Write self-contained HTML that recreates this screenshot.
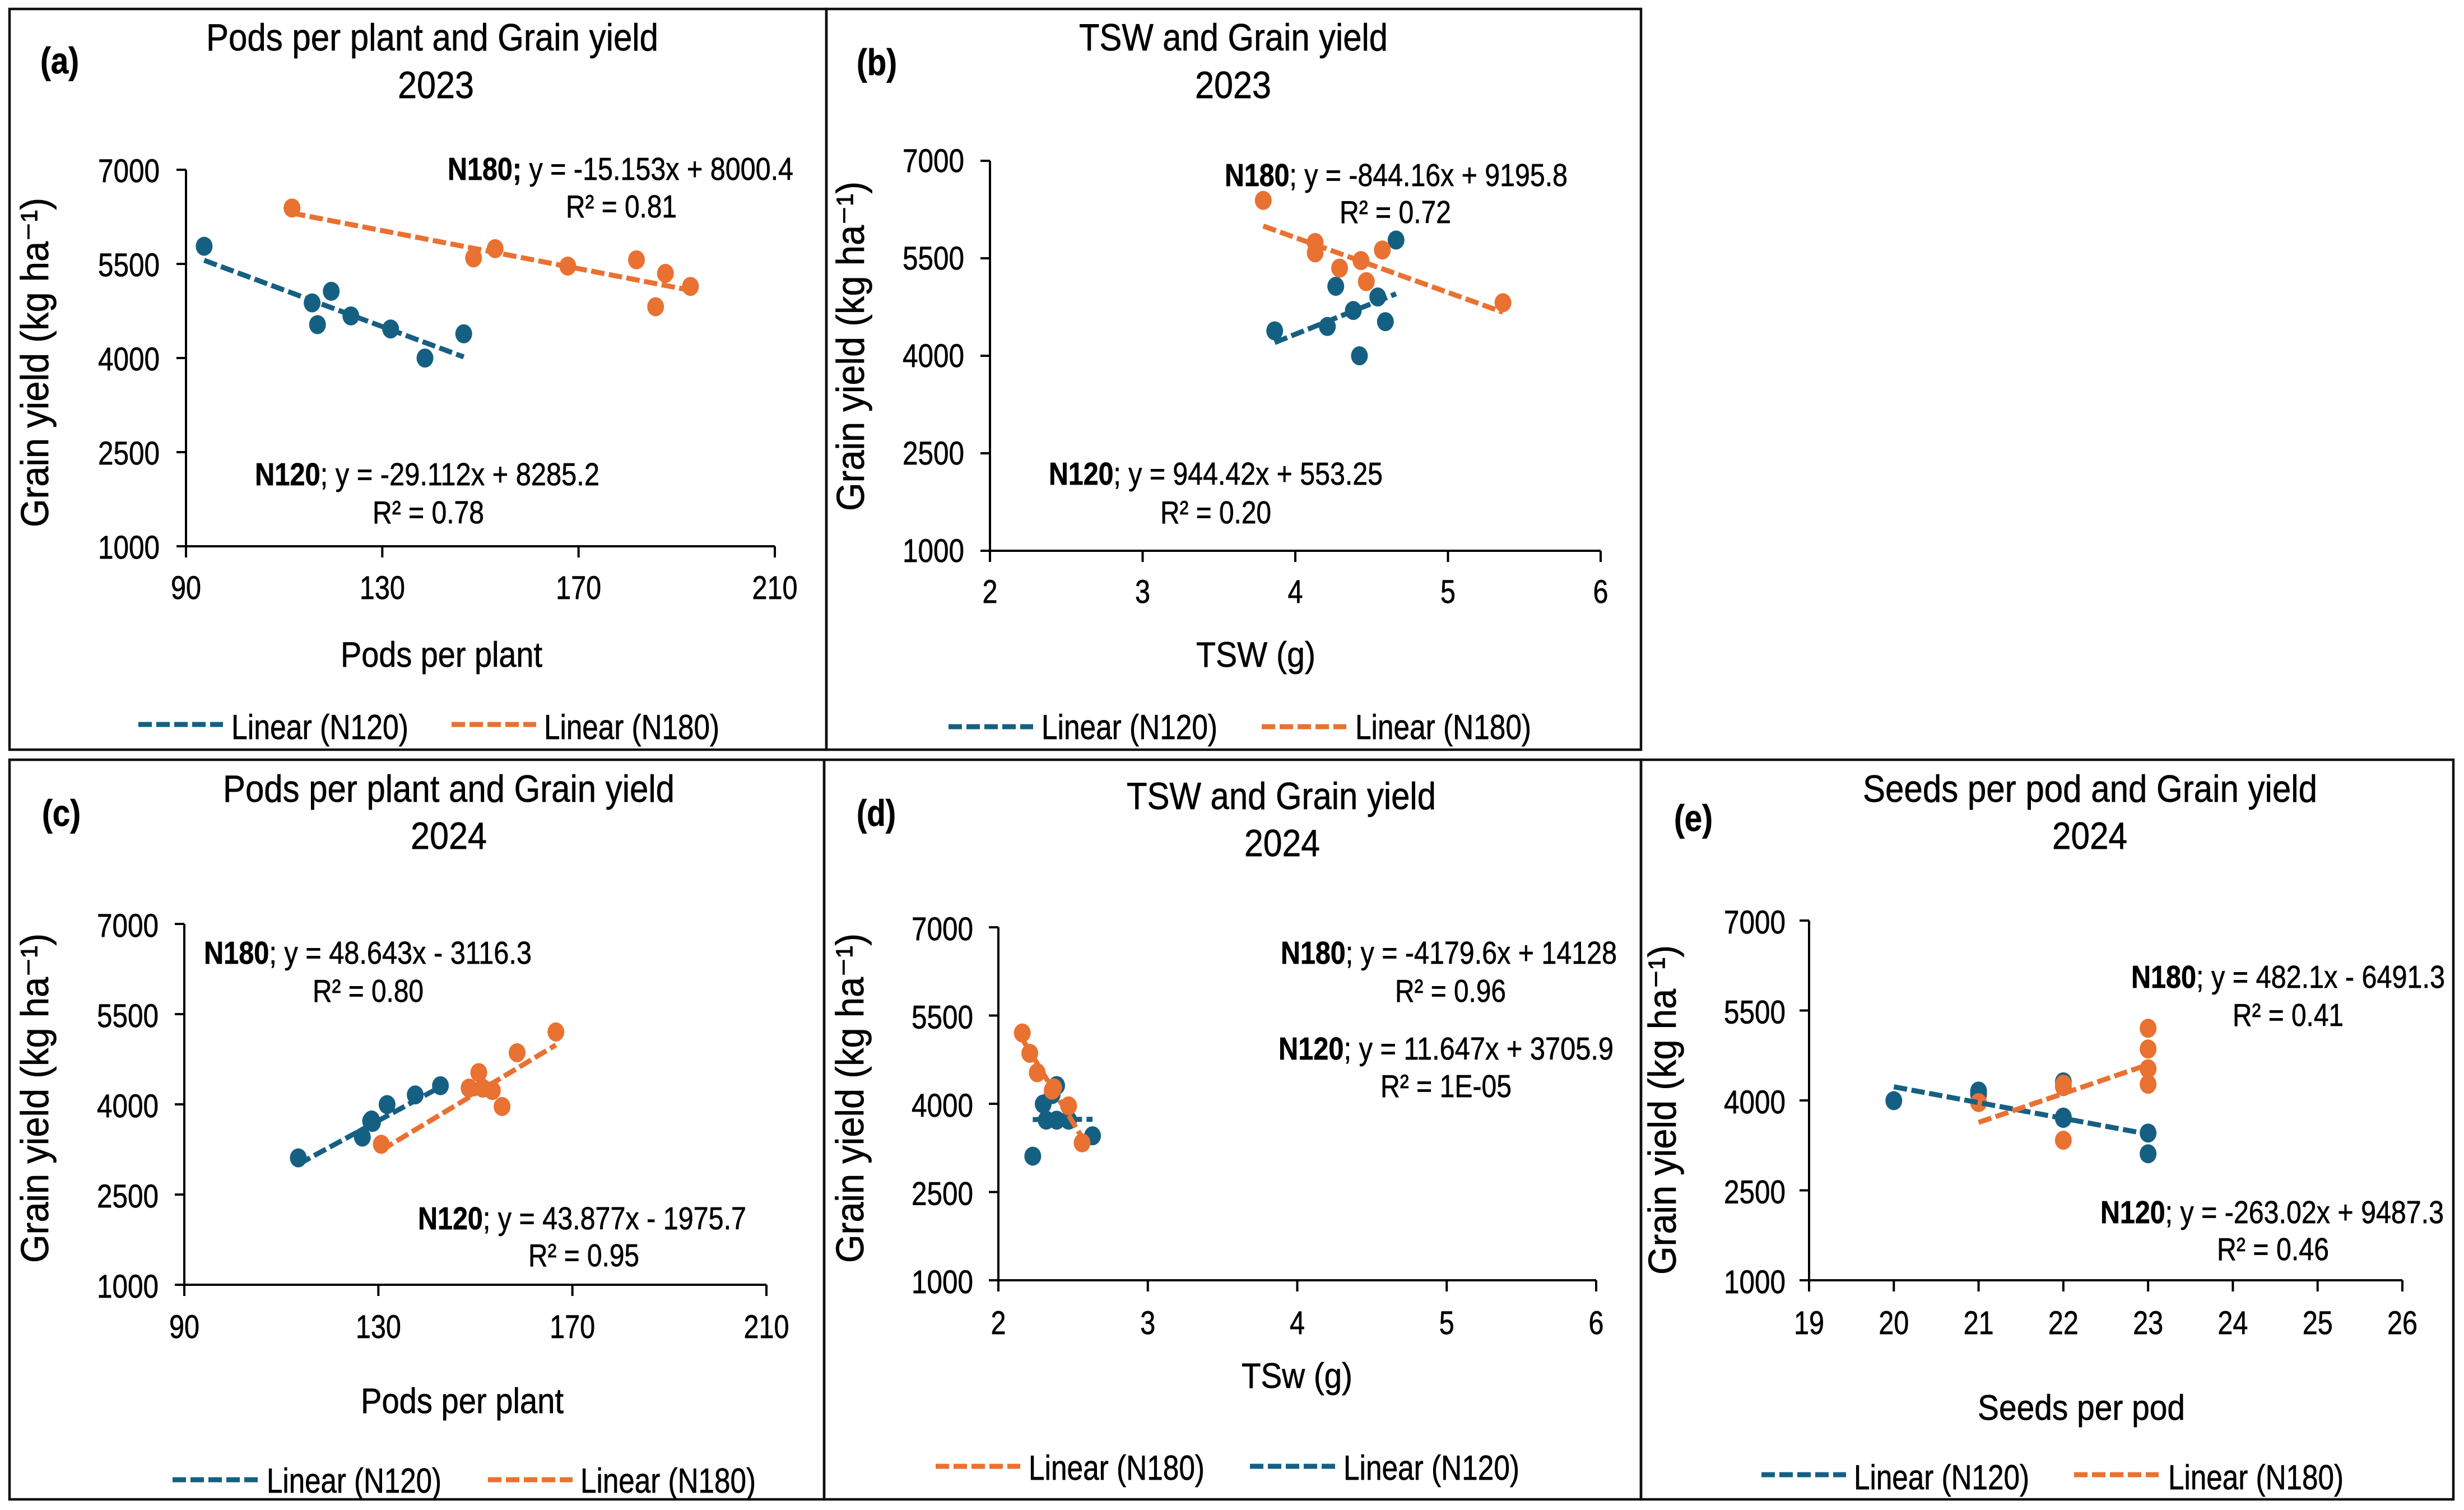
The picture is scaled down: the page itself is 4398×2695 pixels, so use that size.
<!DOCTYPE html>
<html lang="en">
<head>
<meta charset="utf-8">
<title>Grain yield correlations</title>
<style>
html,body{margin:0;padding:0;background:#fff;}
svg{display:block;}
text{font-family:"Liberation Sans","DejaVu Sans",sans-serif;fill:#000;stroke:#000;stroke-width:.7px;}
.title{font-size:68px;}
.annot{font-size:57px;}
.leg{font-size:62px;}
.xt{font-size:63px;}
.yt{font-size:70px;}
.tag{font-size:66px;font-weight:bold;}
.frame{stroke:#111;stroke-width:4.5;fill:none;}
.b{font-weight:bold;}
.blue{stroke:#156082;stroke-width:9;stroke-dasharray:24 8;fill:none;}
.orange{stroke:#E97132;stroke-width:9;stroke-dasharray:24 8;fill:none;}
</style>
</head>
<body>
<svg id="figure" xmlns="http://www.w3.org/2000/svg" width="4398" height="2695" viewBox="0 0 4398 2695">
<rect width="4398" height="2695" fill="#fff"/>

<g>
<rect class="frame" x="17" y="16" width="1458" height="1322"/>
<rect class="frame" x="1475" y="16" width="1454" height="1322"/>
<rect class="frame" x="17" y="1356" width="1454" height="1320"/>
<rect class="frame" x="1471" y="1356" width="1458" height="1320"/>
<rect class="frame" x="2929" y="1356" width="1450" height="1320"/>
</g>

<!-- Panel a -->
<g>
<text class="tag" x="72" y="131" textLength="69" lengthAdjust="spacingAndGlyphs">(a)</text>
<text class="title" x="368" y="90" textLength="807" lengthAdjust="spacingAndGlyphs">Pods per plant and Grain yield</text>
<text class="title" x="710" y="175" textLength="136" lengthAdjust="spacingAndGlyphs">2023</text>
<text class="xt" x="608" y="1190" textLength="360" lengthAdjust="spacingAndGlyphs">Pods per plant</text>
<text class="yt" text-anchor="middle" transform="translate(86,647) rotate(-90)" textLength="588" lengthAdjust="spacingAndGlyphs">Grain yield (kg ha⁻¹)</text>
<text class="annot" x="799" y="321" textLength="617" lengthAdjust="spacingAndGlyphs"><tspan class="b">N180;</tspan> y = -15.153x + 8000.4</text>
<text class="annot" x="1010" y="388" textLength="198" lengthAdjust="spacingAndGlyphs">R² = 0.81</text>
<text class="annot" x="455" y="866" textLength="615" lengthAdjust="spacingAndGlyphs"><tspan class="b">N120</tspan>; y = -29.112x + 8285.2</text>
<text class="annot" x="665" y="934" textLength="199" lengthAdjust="spacingAndGlyphs">R² = 0.78</text>
<line class="blue" x1="247" y1="1293" x2="398" y2="1293"/>
<text class="leg" x="413" y="1319" textLength="316" lengthAdjust="spacingAndGlyphs">Linear (N120)</text>
<line class="orange" x1="806" y1="1293" x2="957" y2="1293"/>
<text class="leg" x="971" y="1319" textLength="313" lengthAdjust="spacingAndGlyphs">Linear (N180)</text>
</g>

<!-- Panel b -->
<g>
<text class="tag" x="1529" y="134" textLength="72" lengthAdjust="spacingAndGlyphs">(b)</text>
<text class="title" x="1926" y="90" textLength="551" lengthAdjust="spacingAndGlyphs">TSW and Grain yield</text>
<text class="title" x="2133" y="175" textLength="136" lengthAdjust="spacingAndGlyphs">2023</text>
<text class="xt" x="2135" y="1190" textLength="213" lengthAdjust="spacingAndGlyphs">TSW (g)</text>
<text class="yt" text-anchor="middle" transform="translate(1542,618) rotate(-90)" textLength="588" lengthAdjust="spacingAndGlyphs">Grain yield (kg ha⁻¹)</text>
<text class="annot" x="2186" y="332" textLength="612" lengthAdjust="spacingAndGlyphs"><tspan class="b">N180</tspan>; y = -844.16x + 9195.8</text>
<text class="annot" x="2391" y="398" textLength="199" lengthAdjust="spacingAndGlyphs">R² = 0.72</text>
<text class="annot" x="1872" y="865" textLength="596" lengthAdjust="spacingAndGlyphs"><tspan class="b">N120</tspan>; y = 944.42x + 553.25</text>
<text class="annot" x="2071" y="934" textLength="198" lengthAdjust="spacingAndGlyphs">R² = 0.20</text>
<line class="blue" x1="1693" y1="1297" x2="1844" y2="1297"/>
<text class="leg" x="1859" y="1319" textLength="314" lengthAdjust="spacingAndGlyphs">Linear (N120)</text>
<line class="orange" x1="2252" y1="1297" x2="2403" y2="1297"/>
<text class="leg" x="2419" y="1319" textLength="314" lengthAdjust="spacingAndGlyphs">Linear (N180)</text>
</g>

<!-- Panel c -->
<g>
<text class="tag" x="75" y="1474" textLength="69" lengthAdjust="spacingAndGlyphs">(c)</text>
<text class="title" x="398" y="1431" textLength="806" lengthAdjust="spacingAndGlyphs">Pods per plant and Grain yield</text>
<text class="title" x="733" y="1515" textLength="136" lengthAdjust="spacingAndGlyphs">2024</text>
<text class="xt" x="644" y="2522" textLength="362" lengthAdjust="spacingAndGlyphs">Pods per plant</text>
<text class="yt" text-anchor="middle" transform="translate(86,1960) rotate(-90)" textLength="588" lengthAdjust="spacingAndGlyphs">Grain yield (kg ha⁻¹)</text>
<text class="annot" x="364" y="1720" textLength="585" lengthAdjust="spacingAndGlyphs"><tspan class="b">N180</tspan>; y = 48.643x - 3116.3</text>
<text class="annot" x="558" y="1788" textLength="198" lengthAdjust="spacingAndGlyphs">R² = 0.80</text>
<text class="annot" x="746" y="2194" textLength="586" lengthAdjust="spacingAndGlyphs"><tspan class="b">N120</tspan>; y = 43.877x - 1975.7</text>
<text class="annot" x="943" y="2260" textLength="198" lengthAdjust="spacingAndGlyphs">R² = 0.95</text>
<line class="blue" x1="308" y1="2641" x2="461" y2="2641"/>
<text class="leg" x="476" y="2664" textLength="312" lengthAdjust="spacingAndGlyphs">Linear (N120)</text>
<line class="orange" x1="871" y1="2641" x2="1022" y2="2641"/>
<text class="leg" x="1036" y="2664" textLength="313" lengthAdjust="spacingAndGlyphs">Linear (N180)</text>
</g>

<!-- Panel d -->
<g>
<text class="tag" x="1529" y="1474" textLength="70" lengthAdjust="spacingAndGlyphs">(d)</text>
<text class="title" x="2011" y="1444" textLength="552" lengthAdjust="spacingAndGlyphs">TSW and Grain yield</text>
<text class="title" x="2221" y="1528" textLength="135" lengthAdjust="spacingAndGlyphs">2024</text>
<text class="xt" x="2216" y="2477" textLength="198" lengthAdjust="spacingAndGlyphs">TSw (g)</text>
<text class="yt" text-anchor="middle" transform="translate(1541,1960) rotate(-90)" textLength="588" lengthAdjust="spacingAndGlyphs">Grain yield (kg ha⁻¹)</text>
<text class="annot" x="2286" y="1720" textLength="600" lengthAdjust="spacingAndGlyphs"><tspan class="b">N180</tspan>; y = -4179.6x + 14128</text>
<text class="annot" x="2490" y="1788" textLength="198" lengthAdjust="spacingAndGlyphs">R² = 0.96</text>
<text class="annot" x="2282" y="1891" textLength="598" lengthAdjust="spacingAndGlyphs"><tspan class="b">N120</tspan>; y = 11.647x + 3705.9</text>
<text class="annot" x="2464" y="1958" textLength="234" lengthAdjust="spacingAndGlyphs">R² = 1E-05</text>
<line class="orange" x1="1670" y1="2617" x2="1821" y2="2617"/>
<text class="leg" x="1836" y="2641" textLength="314" lengthAdjust="spacingAndGlyphs">Linear (N180)</text>
<line class="blue" x1="2231" y1="2617" x2="2383" y2="2617"/>
<text class="leg" x="2398" y="2641" textLength="314" lengthAdjust="spacingAndGlyphs">Linear (N120)</text>
</g>

<!-- Panel e -->
<g>
<text class="tag" x="2988" y="1483" textLength="69" lengthAdjust="spacingAndGlyphs">(e)</text>
<text class="title" x="3325" y="1431" textLength="811" lengthAdjust="spacingAndGlyphs">Seeds per pod and Grain yield</text>
<text class="title" x="3663" y="1515" textLength="134" lengthAdjust="spacingAndGlyphs">2024</text>
<text class="xt" x="3530" y="2534" textLength="370" lengthAdjust="spacingAndGlyphs">Seeds per pod</text>
<text class="yt" text-anchor="middle" transform="translate(2991,1981) rotate(-90)" textLength="588" lengthAdjust="spacingAndGlyphs">Grain yield (kg ha⁻¹)</text>
<text class="annot" x="3804" y="1763" textLength="560" lengthAdjust="spacingAndGlyphs"><tspan class="b">N180</tspan>; y = 482.1x - 6491.3</text>
<text class="annot" x="3985" y="1831" textLength="198" lengthAdjust="spacingAndGlyphs">R² = 0.41</text>
<text class="annot" x="3749" y="2183" textLength="613" lengthAdjust="spacingAndGlyphs"><tspan class="b">N120</tspan>; y = -263.02x + 9487.3</text>
<text class="annot" x="3957" y="2249" textLength="200" lengthAdjust="spacingAndGlyphs">R² = 0.46</text>
<line class="blue" x1="3144" y1="2632" x2="3295" y2="2632"/>
<text class="leg" x="3309" y="2658" textLength="313" lengthAdjust="spacingAndGlyphs">Linear (N120)</text>
<line class="orange" x1="3702" y1="2632" x2="3853" y2="2632"/>
<text class="leg" x="3870" y="2658" textLength="313" lengthAdjust="spacingAndGlyphs">Linear (N180)</text>
</g>
</svg>

<script>
// ---------- chart data ----------
const yTicks = [1000, 2500, 4000, 5500, 7000];
const xTicksPods = [90, 130, 170, 210];
const xTicksTsw = [2, 3, 4, 5, 6];
const xTicksSeeds = [19, 20, 21, 22, 23, 24, 25, 26];

const aN120X = [93.7, 115.7, 116.8, 119.6, 123.6, 131.7, 138.7, 146.6];
const aN120Y = [5781, 4879, 4532, 5064, 4671, 4463, 4000, 4386];
const aN180X = [111.6, 148.6, 153, 167.8, 181.8, 185.7, 187.7, 192.8];
const aN180Y = [6391, 5596, 5743, 5465, 5565, 4817, 5349, 5141];
const aN120Fit = [-29.112, 8285.2];
const aN180Fit = [-15.153, 8000.4];

const bN120X = [3.865, 4.21, 4.265, 4.38, 4.42, 4.54, 4.59, 4.66];
const bN120Y = [4384, 4451, 5069, 4697, 4000, 4905, 4525, 5781];
const bN180X = [3.79, 4.13, 4.13, 4.29, 4.43, 4.465, 4.57, 5.36];
const bN180Y = [6391, 5743, 5584, 5349, 5465, 5141, 5628, 4817];
const bN120Fit = [944.42, 553.25];
const bN180Fit = [-844.16, 9195.8];

const cN120X = [113.5, 126.7, 128.4, 128.8, 128.6, 131.8, 137.6, 142.8];
const cN120Y = [3110, 3456, 3722, 3700, 3740, 3996, 4157, 4310];
const cN180X = [130.6, 148.7, 150.7, 151.5, 153.5, 155.5, 158.6, 166.6];
const cN180Y = [3336, 4270, 4528, 4270, 4230, 3964, 4858, 5204];
const cN120Fit = [43.877, -1975.7];
const cN180Fit = [48.643, -3116.3];

const dN120X = [2.23, 2.30, 2.32, 2.36, 2.39, 2.39, 2.47, 2.63];
const dN120Y = [3110, 3996, 3722, 4157, 4310, 3722, 3722, 3456];
const dN180X = [2.16, 2.21, 2.26, 2.37, 2.36, 2.37, 2.47, 2.56];
const dN180Y = [5204, 4858, 4528, 4270, 4230, 4270, 3964, 3336];
const dN120Fit = [11.647, 3705.9];
const dN180Fit = [-4179.6, 14128];

const eN120X = [20, 21, 21, 22, 22, 22, 23, 23];
const eN120Y = [3996, 4157, 4100, 4310, 3722, 3700, 3456, 3110];
const eN180X = [21, 22, 22, 22, 23, 23, 23, 23];
const eN180Y = [3964, 4270, 4230, 3336, 5204, 4858, 4528, 4270];
const eN120Fit = [-263.02, 9487.3];
const eN180Fit = [482.1, -6491.3];

// ---------- rendering ----------
const NS = 'http://www.w3.org/2000/svg';
const svg = document.getElementById('figure');
const BLUE = '#156082', ORANGE = '#E97132';

function mk(tag, attrs, parent) {
  const el = document.createElementNS(NS, tag);
  for (const k in attrs) el.setAttribute(k, attrs[k]);
  parent.appendChild(el);
  return el;
}

function drawSeries(g, xs, ys, sx, sy, color, prefix) {
  xs.forEach(function (v, i) {
    const dot = mk('ellipse', { cx: sx(v), cy: sy(ys[i]), rx: 15, ry: 17, fill: color }, g);
    
    
  });
}

function drawTrend(g, xs, fit, sx, sy, cls, prefix) {
  const x0 = Math.min.apply(null, xs), x1 = Math.max.apply(null, xs);
  const line = mk('line', {
    x1: sx(x0), y1: sy(fit[0] * x0 + fit[1]),
    x2: sx(x1), y2: sy(fit[0] * x1 + fit[1]),
    'class': cls
  }, g);
  
  
}

function drawPanel(id, box, xTicks, n120X, n120Y, n180X, n180Y, n120Fit, n180Fit) {
  const g = mk('g', {}, svg);
  
  

  const xMin = xTicks[0], xMax = xTicks[xTicks.length - 1];
  const yMin = yTicks[0], yMax = yTicks[yTicks.length - 1];
  const sx = function (v) { return box.left + (v - xMin) / (xMax - xMin) * (box.right - box.left); };
  const sy = function (v) { return box.bottom - (v - yMin) / (yMax - yMin) * (box.bottom - box.top); };
  const axisStyle = { stroke: '#000', 'stroke-width': 4 };

  const yAxis = mk('line', Object.assign({ x1: box.left, x2: box.left, y1: box.top, y2: box.bottom + 20 }, axisStyle), g);
  
  
  const xAxis = mk('line', Object.assign({ x1: box.left - 17, x2: box.right, y1: box.bottom, y2: box.bottom }, axisStyle), g);
  
  

  yTicks.forEach(function (t) {
    const tick = mk('line', Object.assign({ x1: box.left - 17, x2: box.left, y1: sy(t), y2: sy(t) }, axisStyle), g);
    
    
    const lab = mk('text', {
      x: box.yLabelRight, y: sy(t) + box.yLabelDy, 'text-anchor': 'end', 'font-size': 58,
      textLength: String(t).length * 27.5, lengthAdjust: 'spacingAndGlyphs'
    }, g);
    lab.textContent = String(t);
    
    
  });

  xTicks.forEach(function (t) {
    const tick = mk('line', Object.assign({ x1: sx(t), x2: sx(t), y1: box.bottom, y2: box.bottom + 20 }, axisStyle), g);
    
    
    const lab = mk('text', {
      x: sx(t), y: box.xLabelBase, 'text-anchor': 'middle', 'font-size': 58,
      textLength: String(t).length * 27, lengthAdjust: 'spacingAndGlyphs'
    }, g);
    lab.textContent = String(t);
    
    
  });

  drawSeries(g, n120X, n120Y, sx, sy, BLUE, 'n120');
  drawSeries(g, n180X, n180Y, sx, sy, ORANGE, 'n180');
  drawTrend(g, n120X, n120Fit, sx, sy, 'blue', 'n120');
  drawTrend(g, n180X, n180Fit, sx, sy, 'orange', 'n180');
}

drawPanel('a', { left: 332, right: 1383, top: 303, bottom: 975, yLabelRight: 285, yLabelDy: 22, xLabelBase: 1069 },
  xTicksPods, aN120X, aN120Y, aN180X, aN180Y, aN120Fit, aN180Fit);
drawPanel('b', { left: 1767, right: 2857, top: 287, bottom: 983, yLabelRight: 1721, yLabelDy: 20, xLabelBase: 1076 },
  xTicksTsw, bN120X, bN120Y, bN180X, bN180Y, bN120Fit, bN180Fit);
drawPanel('c', { left: 329, right: 1368, top: 1649, bottom: 2293, yLabelRight: 283, yLabelDy: 23, xLabelBase: 2388 },
  xTicksPods, cN120X, cN120Y, cN180X, cN180Y, cN120Fit, cN180Fit);
drawPanel('d', { left: 1782, right: 2849, top: 1655, bottom: 2285, yLabelRight: 1737, yLabelDy: 23, xLabelBase: 2381 },
  xTicksTsw, dN120X, dN120Y, dN180X, dN180Y, dN120Fit, dN180Fit);
drawPanel('e', { left: 3229, right: 4288, top: 1643, bottom: 2285, yLabelRight: 3187, yLabelDy: 23, xLabelBase: 2381 },
  xTicksSeeds, eN120X, eN120Y, eN180X, eN180Y, eN120Fit, eN180Fit);
</script>
</body>
</html>
